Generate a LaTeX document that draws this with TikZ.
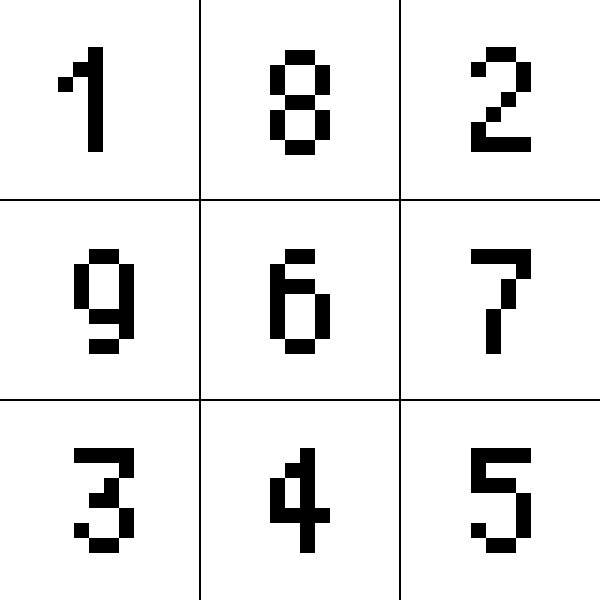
\documentclass[tikz,border=0pt]{standalone}
\begin{document}
\begin{tikzpicture}[x=1pt,y=-1pt,
  pixel/.style={fill=black},
  gridline/.style={draw=black,line width=2pt},
  digitlabel/.style={text opacity=0,inner sep=0pt}]
\useasboundingbox[fill=white] (0,0) rectangle (600,600);
\newcommand\pixglyph[4]{%
  \node[digitlabel] (#1) at (#2+30,#3+52.5) {#1};
  \begin{scope}[shift={(#2,#3)}]
    \foreach \c/\r in {#4}{\fill[pixel] (\c*15,\r*15) rectangle ++(15,15);}
  \end{scope}}
% grid
\coordinate (v1t) at (200,0); \coordinate (v1b) at (200,600);
\coordinate (v2t) at (400,0); \coordinate (v2b) at (400,600);
\coordinate (h1l) at (0,200); \coordinate (h1r) at (600,200);
\coordinate (h2l) at (0,400); \coordinate (h2r) at (600,400);
\draw[gridline] (v1t) -- (v1b);
\draw[gridline] (v2t) -- (v2b);
\draw[gridline] (h1l) -- (h1r);
\draw[gridline] (h2l) -- (h2r);
% digits
\pixglyph{1}{58}{47}{2/0,1/1,2/1,0/2,2/2,2/3,2/4,2/5,2/6}
\pixglyph{8}{270}{50}{1/0,2/0,0/1,3/1,0/2,3/2,1/3,2/3,0/4,3/4,0/5,3/5,1/6,2/6}
\pixglyph{2}{471}{47}{1/0,2/0,0/1,3/1,3/2,2/3,1/4,0/5,0/6,1/6,2/6,3/6}
\pixglyph{9}{74}{249}{1/0,2/0,0/1,3/1,0/2,3/2,0/3,3/3,1/4,2/4,3/4,3/5,1/6,2/6}
\pixglyph{6}{270}{249}{1/0,2/0,0/1,0/2,1/2,2/2,0/3,3/3,0/4,3/4,0/5,3/5,1/6,2/6}
\pixglyph{7}{471}{249}{0/0,1/0,2/0,3/0,3/1,2/2,2/3,1/4,1/5,1/6}
\pixglyph{3}{74}{448}{0/0,1/0,2/0,3/0,3/1,2/2,1/3,2/3,3/4,0/5,3/5,1/6,2/6}
\pixglyph{4}{270}{448}{2/0,1/1,2/1,0/2,2/2,0/3,2/3,0/4,1/4,2/4,3/4,2/5,2/6}
\pixglyph{5}{471}{448}{0/0,1/0,2/0,3/0,0/1,0/2,1/2,2/2,3/3,3/4,0/5,3/5,1/6,2/6}
\end{tikzpicture}
\end{document}
